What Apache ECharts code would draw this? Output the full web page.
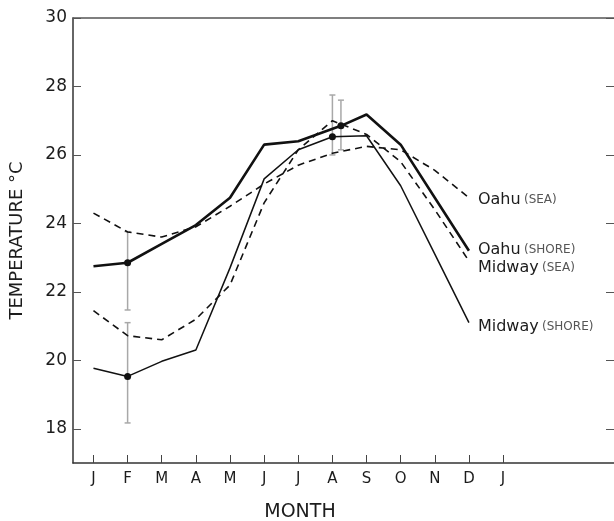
<!DOCTYPE html>
<html>
<head>
<meta charset="utf-8">
<script src="https://cdn.jsdelivr.net/npm/echarts@6/dist/echarts.min.js"></script>
<style>html,body{margin:0;padding:0;background:#fff}#c{width:614px;height:521px}</style>
</head>
<body>
<div id="c"></div>
<script>
// ---- data ----
var monthLabels = ['J','F','M','A','M','J','J','A','S','O','N','D','J'];
var monthTicks = [0,1,2,3,4,5,6,7,8,9,10,11,12];
var yTicks = [18,20,22,24,26,28,30];

var oahuShore = [[0,22.75],[1,22.85],[2,23.4],[3,23.95],[4,24.75],[5,26.3],[6,26.4],[7.25,26.85],[8,27.18],[9,26.3],[10,24.75],[11,23.2]];
var midwayShore = [[0,19.77],[1,19.53],[2,19.97],[3,20.3],[4,22.7],[5,25.3],[6,26.15],[7,26.53],[8,26.56],[9,25.1],[10,23.1],[11,21.1]];
var oahuSea = [[0,24.3],[1,23.75],[2,23.6],[3,23.9],[4,24.5],[5,25.15],[6,25.7],[7,26.05],[8,26.25],[9,26.15],[10,25.55],[11,24.75]];
var midwaySea = [[0,21.45],[1,20.72],[2,20.6],[3,21.2],[4,22.2],[5,24.6],[6,26.15],[7,27.0],[8,26.6],[9,25.8],[10,24.4],[11,22.9]];

// points carrying a dot marker (x positions)
var oahuShoreMarked = [1, 7.25];
var midwayShoreMarked = [1, 7];

// error bars: [x, low, high]
var errorBars = [[1,21.47,23.76],[1,18.17,21.1],[7,26.0,27.75],[7.25,26.15,27.6]];

var seriesNames = {
  oahuSea: ['Oahu', '(SEA)'],
  oahuShore: ['Oahu', '(SHORE)'],
  midwaySea: ['Midway', '(SEA)'],
  midwayShore: ['Midway', '(SHORE)']
};

// ---- chart ----
var FONT = 'DejaVu Sans';
var TXT = '#1c1c1c';
function withMarkers(arr, marked) {
  return arr.map(function (p) {
    if (marked.indexOf(p[0]) >= 0) {
      return { value: p, symbol: 'circle', symbolSize: 7, itemStyle: { color: '#111' } };
    }
    return { value: p, symbol: 'none' };
  });
}
function endLabel(key, dy) {
  return {
    show: true,
    distance: 9,
    offset: [0, dy],
    formatter: '{a|' + seriesNames[key][0] + '} {b|' + seriesNames[key][1] + '}',
    rich: {
      a: { fontFamily: FONT, fontSize: 16, color: TXT },
      b: { fontFamily: FONT, fontSize: 12, color: '#555' }
    }
  };
}
function lineSeries(key, data, width, type, dy) {
  return {
    type: 'line',
    name: key,
    data: data,
    symbol: 'none',
    showSymbol: true,
    lineStyle: { color: '#111', width: width, type: type },
    itemStyle: { color: '#111' },
    endLabel: endLabel(key, dy),
    z: 3,
    clip: false
  };
}

var chart = echarts.init(document.getElementById('c'), null, { renderer: 'canvas' });
chart.setOption({
  animation: false,
  backgroundColor: '#fff',
  grid: { left: 72, top: 18, right: -2, bottom: 58, show: false },
  xAxis: [{
    type: 'value', min: -0.6, max: 15.25,
    axisLine: { show: true, onZero: false, lineStyle: { color: '#333', width: 1.5 } },
    axisTick: { show: true, inside: true, length: 8, customValues: monthTicks, lineStyle: { color: '#444' } },
    axisLabel: {
      customValues: monthTicks, margin: 9,
      formatter: function (v) { return monthLabels[Math.round(v)]; },
      fontFamily: FONT, fontSize: 15, color: TXT
    },
    splitLine: { show: false }
  }, {
    type: 'value', min: -0.6, max: 15.25, position: 'top',
    axisLine: { show: true, onZero: false, lineStyle: { color: '#555', width: 1.5 } },
    axisTick: { show: false }, axisLabel: { show: false }, splitLine: { show: false }
  }],
  yAxis: [{
    type: 'value', min: 17, max: 30,
    name: 'TEMPERATURE °C', nameLocation: 'middle', nameGap: 47,
    nameTextStyle: { fontFamily: FONT, fontSize: 18, color: TXT },
    axisLine: { show: true, onZero: false, lineStyle: { color: '#333', width: 1.5 } },
    axisTick: { show: true, inside: true, length: 8, customValues: yTicks, lineStyle: { color: '#555' } },
    axisLabel: { customValues: yTicks, margin: 6, fontFamily: FONT, fontSize: 17, color: TXT },
    splitLine: { show: false }
  }, {
    type: 'value', min: 17, max: 30, position: 'right',
    axisLine: { show: true, onZero: false, lineStyle: { color: '#333' } },
    axisTick: { show: true, inside: true, length: 8, customValues: yTicks, lineStyle: { color: '#555' } },
    axisLabel: { show: false },
    splitLine: { show: false }
  }],
  graphic: [{
    type: 'text', x: 300, y: 512,
    style: { text: 'MONTH', fontFamily: FONT, fontSize: 19, fill: TXT, textAlign: 'center', textVerticalAlign: 'middle' }
  }],
  series: [
    {
      type: 'custom',
      data: errorBars,
      z: 1,
      renderItem: function (params, api) {
        var x = api.value(0);
        var lo = api.coord([x, api.value(1)]);
        var hi = api.coord([x, api.value(2)]);
        var cap = 3;
        var st = { stroke: '#a8a8a8', lineWidth: 1.5 };
        return {
          type: 'group',
          children: [
            { type: 'line', shape: { x1: lo[0], y1: lo[1], x2: hi[0], y2: hi[1] }, style: st },
            { type: 'line', shape: { x1: lo[0] - cap, y1: lo[1], x2: lo[0] + cap, y2: lo[1] }, style: st },
            { type: 'line', shape: { x1: hi[0] - cap, y1: hi[1], x2: hi[0] + cap, y2: hi[1] }, style: st }
          ]
        };
      }
    },
    lineSeries('oahuSea', oahuSea.map(function (p) { return { value: p, symbol: 'none' }; }), 1.6, [7, 5], 2),
    lineSeries('oahuShore', withMarkers(oahuShore, oahuShoreMarked), 2.6, 'solid', -1),
    lineSeries('midwaySea', midwaySea.map(function (p) { return { value: p, symbol: 'none' }; }), 1.6, [7, 5], 7),
    lineSeries('midwayShore', withMarkers(midwayShore, midwayShoreMarked), 1.5, 'solid', 4)
  ]
});
</script>
</body>
</html>
